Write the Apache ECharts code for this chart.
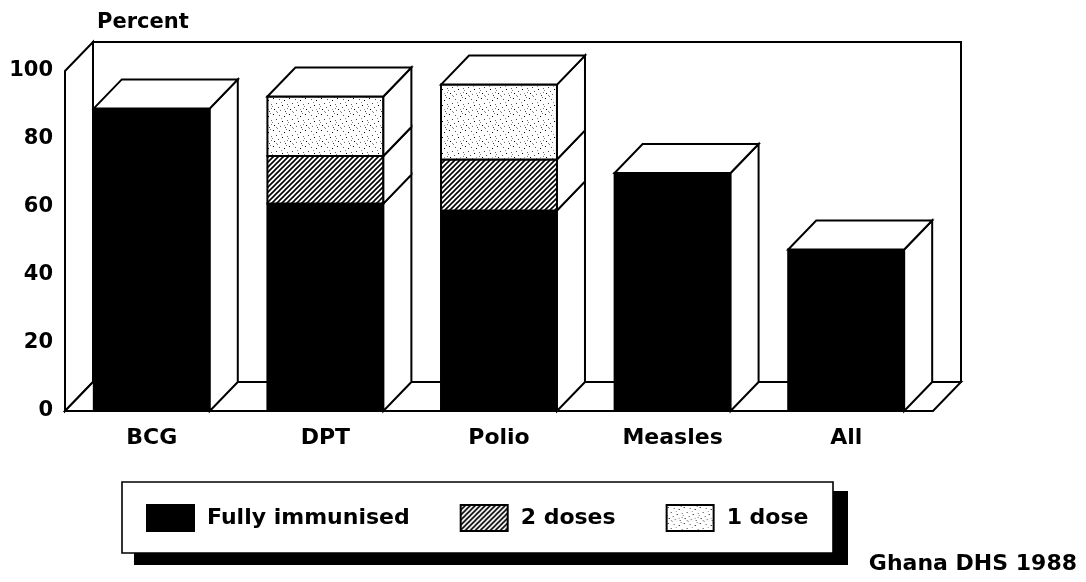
<!DOCTYPE html>
<html><head><meta charset="utf-8">
<script src="https://cdn.jsdelivr.net/npm/echarts@6/dist/echarts.min.js"></script>
<style>html,body{margin:0;padding:0;background:#fff}#c{width:1086px;height:582px}</style>
</head><body><div id="c"></div>
<script>
const categories = ['BCG', 'DPT', 'Polio', 'Measles', 'All'];
const fullyImmunised = [89, 61, 59, 70, 47.5];
const twoDoses = [0, 14, 15, 0, 0];
const oneDose = [0, 17.5, 22, 0, 0];
const seriesNames = ['Fully immunised', '2 doses', '1 dose'];
const yTickInterval = 20;

const DX = 28, DY = -29;
const FONT = 'DejaVu Sans';
const LW = 2;

function makeHatch() {
  const c = document.createElement('canvas'); c.width = 5; c.height = 5;
  const g = c.getContext('2d');
  g.fillStyle = '#fff'; g.fillRect(0, 0, 5, 5);
  g.strokeStyle = '#000'; g.lineWidth = 1.6; g.beginPath();
  g.moveTo(-1, 6); g.lineTo(6, -1);
  g.moveTo(-1, 1); g.lineTo(1, -1);
  g.moveTo(4, 6); g.lineTo(6, 4);
  g.stroke();
  return c;
}
function makeDots() {
  const c = document.createElement('canvas'); c.width = 16; c.height = 16;
  const g = c.getContext('2d');
  g.fillStyle = '#fff'; g.fillRect(0, 0, 16, 16);
  const pts = [[1,2,'#000'],[5,0,'#888'],[7,3,'#555'],[12,4,'#000'],[14,1,'#777'],[4,7,'#444'],[9,6,'#999'],
               [10,9,'#000'],[15,8,'#666'],[0,10,'#888'],[6,11,'#555'],[15,12,'#777'],[2,13,'#000'],
               [8,14,'#666'],[12,13,'#999'],[13,15,'#444'],[4,15,'#888']];
  pts.forEach(p => { g.fillStyle = p[2]; g.fillRect(p[0], p[1], 1, 1); });
  return c;
}
const fills = ['#000', { image: makeHatch(), repeat: 'repeat' }, { image: makeDots(), repeat: 'repeat' }];
const segs = [fullyImmunised, twoDoses, oneDose];

function buildData(k) {
  const out = [];
  categories.forEach((c, i) => {
    const v = segs[k][i];
    if (!(v > 0)) return;
    let base = 0;
    for (let j = 0; j < k; j++) base += segs[j][i];
    let top = 1;
    for (let j = k + 1; j < segs.length; j++) if (segs[j][i] > 0) top = 0;
    out.push([i, base, base + v, top]);
  });
  return out;
}

function renderBar(fill) {
  return function (params, api) {
    const i = api.value(0);
    const pb = api.coord([i, api.value(1)]);
    const pt = api.coord([i, api.value(2)]);
    const band = api.size([1, 0])[0];
    const w = band * 0.668;
    const x = pb[0] - w / 2, yb = pb[1], yt = pt[1];
    const st = { stroke: '#000', lineWidth: LW };
    const children = [
      { type: 'rect', shape: { x: x, y: yt, width: w, height: yb - yt }, style: Object.assign({ fill: fill }, st) },
      { type: 'polygon', shape: { points: [[x + w, yt], [x + w + DX, yt + DY], [x + w + DX, yb + DY], [x + w, yb]] }, style: Object.assign({ fill: '#fff' }, st) }
    ];
    if (api.value(3)) {
      children.push({ type: 'polygon', shape: { points: [[x, yt], [x + DX, yt + DY], [x + w + DX, yt + DY], [x + w, yt]] }, style: Object.assign({ fill: '#fff' }, st) });
    }
    return { type: 'group', children: children };
  };
}

function renderFrame(params, api) {
  const cs = params.coordSys;
  const x = cs.x, y = cs.y, w = cs.width, h = cs.height;
  const st = { stroke: '#000', lineWidth: LW, fill: '#fff' };
  return {
    type: 'group',
    children: [
      { type: 'rect', shape: { x: x + DX, y: y + DY, width: w, height: h }, style: st },
      { type: 'polygon', shape: { points: [[x, y], [x + DX, y + DY], [x + DX, y + h + DY], [x, y + h]] }, style: st },
      { type: 'polygon', shape: { points: [[x, y + h], [x + w, y + h], [x + w + DX, y + h + DY], [x + DX, y + h + DY]] }, style: st }
    ]
  };
}

const chart = echarts.init(document.getElementById('c'), null, { renderer: 'canvas' });
const series = [{
  type: 'custom', name: 'frame', silent: true, z: 1,
  renderItem: renderFrame, data: [[0, 0]], encode: { x: 0, y: 1 }
}];
seriesNames.forEach((n, k) => {
  series.push({
    type: 'custom', name: n, z: 2 + k,
    itemStyle: { color: fills[k], borderColor: '#000', borderWidth: 1 },
    renderItem: renderBar(fills[k]),
    data: buildData(k),
    encode: { x: 0, y: 2 }
  });
});

chart.setOption({
  animation: false,
  backgroundColor: '#fff',
  textStyle: { fontFamily: FONT },
  title: [
    { text: 'Percent', left: 92, top: 7, textStyle: { fontFamily: FONT, fontSize: 21, fontWeight: 'bold', color: '#000' } },
    { text: 'Ghana DHS 1988', right: 4, top: 548, textStyle: { fontFamily: FONT, fontSize: 22, fontWeight: 'bold', color: '#000' } }
  ],
  graphic: [
    { type: 'rect', z: 0, silent: true, shape: { x: 134, y: 491, width: 714, height: 74 }, style: { fill: '#000' } },
    { type: 'rect', z: 1, silent: true, shape: { x: 122, y: 482, width: 711, height: 71 }, style: { fill: '#fff', stroke: '#000', lineWidth: 1.6 } }
  ],
  grid: { left: 65, top: 71, width: 868, height: 340, containLabel: false },
  xAxis: {
    type: 'category', data: categories,
    axisLine: { show: false }, axisTick: { show: false },
    axisLabel: { margin: 16, color: '#000', fontFamily: FONT, fontSize: 22, fontWeight: 'bold' }
  },
  yAxis: {
    type: 'value', min: 0, max: 100, interval: yTickInterval,
    axisLine: { show: false }, axisTick: { show: false }, splitLine: { show: false },
    axisLabel: { margin: 12, color: '#000', fontFamily: FONT, fontSize: 21, fontWeight: 'bold' }
  },
  legend: {
    data: seriesNames, left: 122, top: 482, orient: 'horizontal', z: 10,
    padding: [22, 22, 22, 24], itemWidth: 47, itemHeight: 26, itemGap: 50,
    icon: 'rect',
    textStyle: { color: '#000', fontFamily: FONT, fontSize: 22, fontWeight: 'bold', padding: [0, 0, 0, 8] },
    selectedMode: false
  },
  series: series
});
</script>
</body></html>
